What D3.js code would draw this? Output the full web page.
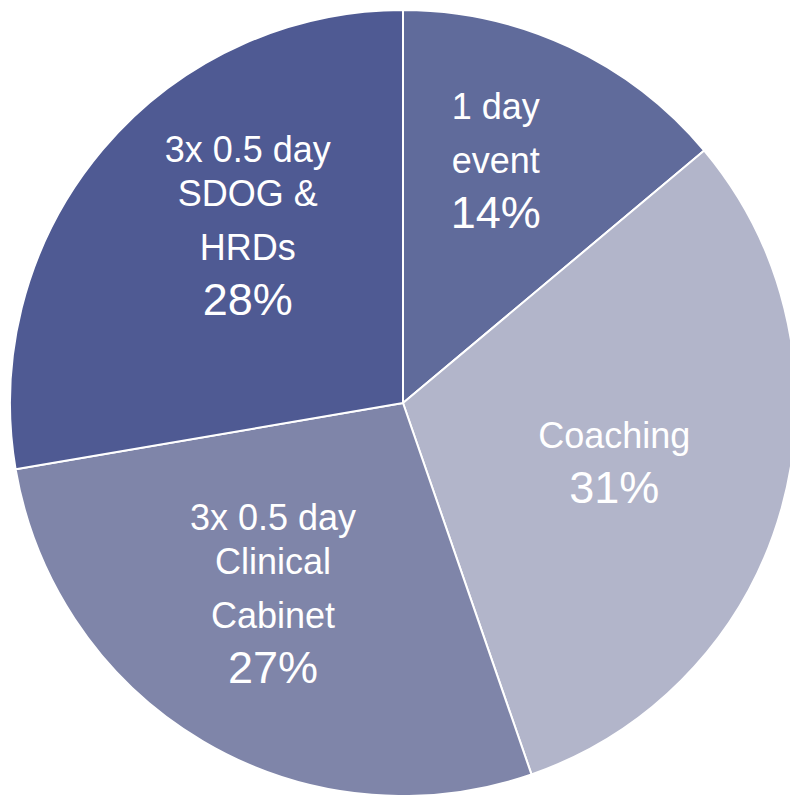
<!DOCTYPE html>
<html>
<head>
<meta charset="utf-8">
<script src="https://cdn.jsdelivr.net/npm/d3@7"></script>
<style>
  body { margin: 0; background: #fff; }
  svg { display: block; }
</style>
</head>
<body>
<div class="pie"></div>
<script>
// slice shares (clockwise from 12 o'clock)
const categories = ["1 day event", "Coaching", "3x 0.5 day Clinical Cabinet", "3x 0.5 day SDOG & HRDs"]
const shares = [13.9, 30.8, 27.6, 27.7]
const percentLabels = ["14%", "31%", "27%", "28%"]
const labelLines = [
  ["1 day", "event"],
  ["Coaching"],
  ["3x 0.5 day", "Clinical", "Cabinet"],
  ["3x 0.5 day", "SDOG &", "HRDs"],
]
const colors = ["#606b9b", "#b2b5ca", "#7f85a9", "#4f5a93"]

function drawPie() {
  const dataset = categories.map((c, i) => ({
    category: c,
    share: shares[i],
    pct: percentLabels[i],
    lines: labelLines[i],
    color: colors[i],
  }))

  const dimensions = {
    width: 790,
    height: 795,
    cx: 403,
    cy: 403,
    radius: 393,
  }

  const wrapper = d3.select(".pie")
    .append("svg")
    .attr("width", dimensions.width)
    .attr("height", dimensions.height)

  const bounds = wrapper.append("g")
    .attr("transform", `translate(${dimensions.cx}, ${dimensions.cy})`)

  const pieGenerator = d3.pie()
    .value(d => d.share)
    .sort(null)

  const arcs = pieGenerator(dataset)

  const arcGenerator = d3.arc()
    .innerRadius(0)
    .outerRadius(dimensions.radius)

  bounds.selectAll("path")
    .data(arcs)
    .enter().append("path")
    .attr("d", arcGenerator)
    .attr("fill", d => d.data.color)
    .attr("stroke", "white")
    .attr("stroke-width", 2)
    .attr("stroke-linejoin", "round")

  // labels sit near the centroid, nudged the way the original placed them
  const labelArc = d3.arc()
    .innerRadius(dimensions.radius * 0.6)
    .outerRadius(dimensions.radius * 0.6)
  const nudges = [[-7, -29], [-16, -3], [-10, -12], [25, -25]]

  const nameSize = 36
  const pctSize = 45
  const capName = nameSize * 0.716

  arcs.forEach((d, i) => {
    const [x, y] = labelArc.centroid(d)
    const lines = d.data.lines
    // baseline gaps: wrapped first pair is tighter
    const gaps = lines.map((l, j) => j === 0 ? 0 : (lines.length === 3 && j === 1 ? 44 : 54))
    const baselines = []
    let b = 0
    gaps.forEach(g => { b += g; baselines.push(b) })
    const pctBase = b + 55
    const top = -capName
    const blockH = pctBase - top
    const shift = -top - blockH / 2

    const g = bounds.append("g")
      .attr("transform", `translate(${x + nudges[i][0]}, ${y + nudges[i][1] + shift})`)
      .attr("fill", "white")
      .style("font-family", "'Liberation Sans', Arial, sans-serif")
      .style("text-anchor", "middle")

    lines.forEach((line, j) => {
      g.append("text")
        .attr("y", baselines[j])
        .style("font-size", `${nameSize}px`)
        .text(line)
    })
    g.append("text")
      .attr("y", pctBase)
      .style("font-size", `${pctSize}px`)
      .text(d.data.pct)
  })
}

drawPie()
</script>
</body>
</html>
